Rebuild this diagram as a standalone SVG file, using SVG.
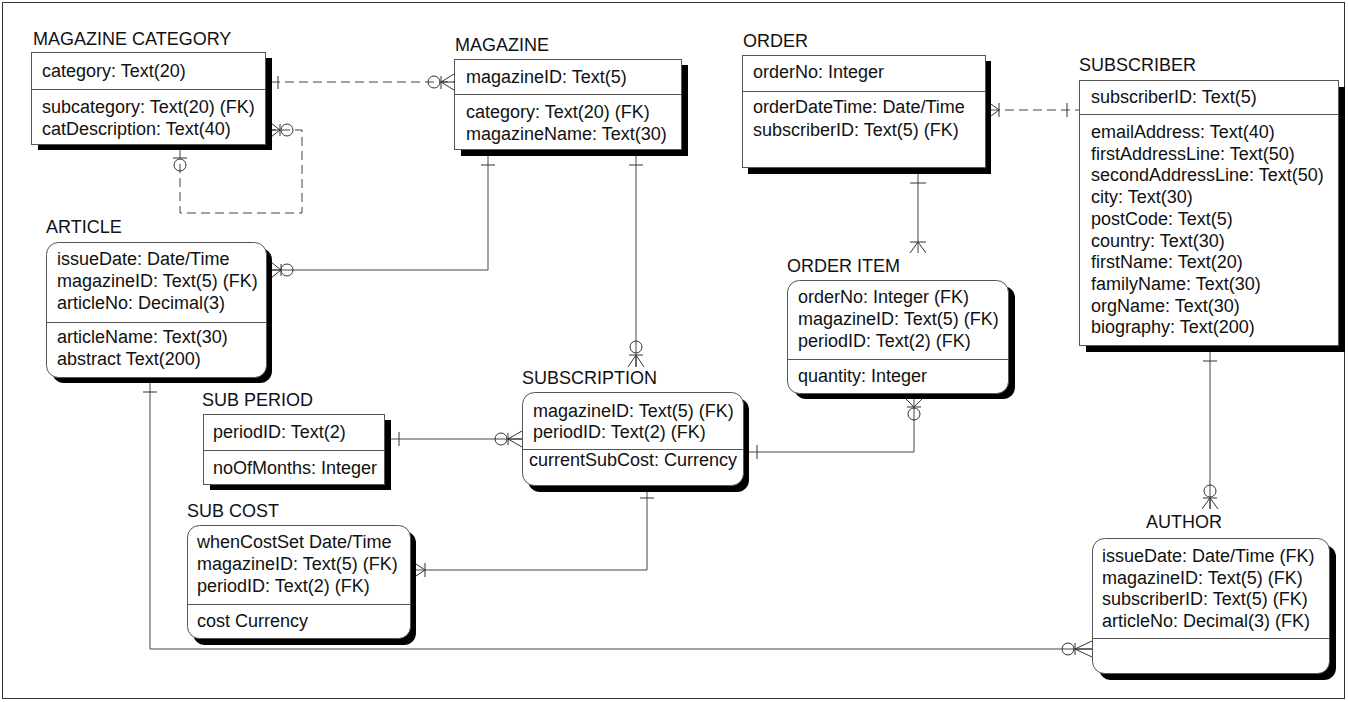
<svg xmlns="http://www.w3.org/2000/svg" width="1348" height="702" viewBox="0 0 1348 702">
<style>
text{font-family:"Liberation Sans",Arial,sans-serif;font-size:18px;fill:#111}
.box{fill:#fff;stroke:#555;stroke-width:1}
.sh{fill:#000}
.div{stroke:#555;stroke-width:1}
.c{fill:none;stroke:#444;stroke-width:1}
.d{fill:none;stroke:#444;stroke-width:1;stroke-dasharray:9,5}
.m{fill:none;stroke:#333;stroke-width:1}
</style>
<rect x="2.5" y="2.5" width="1342" height="696" fill="#fff" stroke="#333" stroke-width="1"/>

<g id="connectors">
  <!-- MAGAZINE CATEGORY to MAGAZINE -->
  <path class="d" d="M271,82 H454"/>
  <path class="m" d="M278,76 V89 M441,76 V89 M441,82 L454,74 M441,82 H454 M441,82 L454,90"/>
  <circle class="m" cx="434" cy="82" r="6" fill="#fff"/>
  <!-- MAGAZINE CATEGORY self loop -->
  <path class="d" d="M180,150 V213 H302 V130 H271"/>
  <path class="m" d="M173,158 H187 M280,124 V136 M280,130 L271,123 M280,130 H271 M280,130 L271,137"/>
  <circle class="m" cx="180" cy="165" r="6" fill="#fff"/>
  <circle class="m" cx="287" cy="130" r="6" fill="#fff"/>
  <!-- MAGAZINE to ARTICLE -->
  <path class="c" d="M488,156 V270 H271"/>
  <path class="m" d="M481,165 H495 M281,264 V276 M281,270 L271,262 M281,270 H271 M281,270 L271,278"/>
  <circle class="m" cx="287" cy="270" r="6" fill="#fff"/>
  <!-- MAGAZINE to SUBSCRIPTION -->
  <path class="c" d="M636,156 V367"/>
  <path class="m" d="M629,165 H643 M629,355 H643 M636,355 L628,367 M636,355 V367 M636,355 L644,367"/>
  <circle class="m" cx="636" cy="347" r="6" fill="#fff"/>
  <!-- ORDER to SUBSCRIBER -->
  <path class="d" d="M991,110 H1079"/>
  <path class="m" d="M999,103 V117 M999,110 L991,104 M999,110 L991,116 M1067,103 V117"/>
  <!-- ORDER to ORDER ITEM -->
  <path class="c" d="M918,174 V253"/>
  <path class="m" d="M910,183 H926 M910,242 H926 M918,242 L910,253 M918,242 L926,253"/>
  <!-- ORDER ITEM to SUBSCRIPTION -->
  <path class="c" d="M914,399 V452 H749"/>
  <path class="m" d="M907,407 H921 M914,407 L906,399 M914,407 L922,399 M757,445 V459"/>
  <circle class="m" cx="914" cy="414" r="6" fill="#fff"/>
  <!-- SUB PERIOD to SUBSCRIPTION -->
  <path class="c" d="M390,439 H522"/>
  <path class="m" d="M399,432 V446 M508,433 V445 M508,439 L522,431 M508,439 H522 M508,439 L522,447"/>
  <circle class="m" cx="501" cy="439" r="6" fill="#fff"/>
  <!-- SUBSCRIPTION to SUB COST -->
  <path class="c" d="M647,491 V570 H416"/>
  <path class="m" d="M640,498 H654 M425,563 V577 M425,570 L416,564 M425,570 L416,576"/>
  <!-- ARTICLE to AUTHOR -->
  <path class="c" d="M150,383 V649 H1092"/>
  <path class="m" d="M143,392 H157 M1075,643 V655 M1075,649 L1092,641 M1075,649 H1092 M1075,649 L1092,657"/>
  <circle class="m" cx="1068" cy="649" r="6" fill="#fff"/>
  <!-- SUBSCRIBER to AUTHOR -->
  <path class="c" d="M1210,351 V509"/>
  <path class="m" d="M1203,361 H1217 M1203,498 H1217 M1210,498 L1202,509 M1210,498 V509 M1210,498 L1218,509"/>
  <circle class="m" cx="1210" cy="491" r="6" fill="#fff"/>
</g>

<g id="magazine-category">
  <text x="33" y="45">MAGAZINE CATEGORY</text>
  <rect class="sh" x="38" y="58" width="234" height="92"/>
  <rect class="box" x="31.5" y="52.5" width="234" height="92"/>
  <line class="div" x1="31.5" y1="89.5" x2="265.5" y2="89.5"/>
  <text x="42" y="77">category: Text(20)</text>
  <text x="42" y="113">subcategory: Text(20) (FK)</text>
  <text x="42" y="134.5">catDescription: Text(40)</text>
</g>

<g id="magazine">
  <text x="455" y="51">MAGAZINE</text>
  <rect class="sh" x="461" y="65" width="227" height="91"/>
  <rect class="box" x="454.5" y="59.5" width="227" height="90"/>
  <line class="div" x1="454.5" y1="94.5" x2="681.5" y2="94.5"/>
  <text x="466" y="83">magazineID: Text(5)</text>
  <text x="466" y="118">category: Text(20) (FK)</text>
  <text x="466" y="140">magazineName: Text(30)</text>
</g>

<g id="order">
  <text x="743" y="47">ORDER</text>
  <rect class="sh" x="748" y="61" width="243" height="113"/>
  <rect class="box" x="742.5" y="55.5" width="243" height="112"/>
  <line class="div" x1="742.5" y1="91.5" x2="985.5" y2="91.5"/>
  <text x="753" y="78">orderNo: Integer</text>
  <text x="753" y="113">orderDateTime: Date/Time</text>
  <text x="753" y="136">subscriberID: Text(5) (FK)</text>
</g>

<g id="subscriber">
  <text x="1079" y="71">SUBSCRIBER</text>
  <rect class="sh" x="1086" y="87" width="259" height="265"/>
  <rect class="box" x="1079.5" y="80.5" width="259" height="265"/>
  <line class="div" x1="1079.5" y1="114.5" x2="1338.5" y2="114.5"/>
  <text x="1091" y="103">subscriberID: Text(5)</text>
  <text x="1091" y="138">emailAddress: Text(40)</text>
  <text x="1091" y="159.7">firstAddressLine: Text(50)</text>
  <text x="1091" y="181.4">secondAddressLine: Text(50)</text>
  <text x="1091" y="203.1">city: Text(30)</text>
  <text x="1091" y="224.8">postCode: Text(5)</text>
  <text x="1091" y="246.5">country: Text(30)</text>
  <text x="1091" y="268.2">firstName: Text(20)</text>
  <text x="1091" y="289.9">familyName: Text(30)</text>
  <text x="1091" y="311.6">orgName: Text(30)</text>
  <text x="1091" y="333.3">biography: Text(200)</text>
</g>

<g id="article">
  <text x="46" y="233">ARTICLE</text>
  <rect class="sh" x="52" y="248" width="220" height="135" rx="12"/>
  <rect class="box" x="46.5" y="242.5" width="220" height="135" rx="12"/>
  <line class="div" x1="46.5" y1="322.5" x2="266.5" y2="322.5"/>
  <text x="57" y="265">issueDate: Date/Time</text>
  <text x="57" y="287">magazineID: Text(5) (FK)</text>
  <text x="57" y="308.5">articleNo: Decimal(3)</text>
  <text x="57" y="343">articleName: Text(30)</text>
  <text x="57" y="365">abstract Text(200)</text>
</g>

<g id="subscription">
  <text x="522" y="384">SUBSCRIPTION</text>
  <rect class="sh" x="528" y="398" width="221" height="94" rx="12"/>
  <rect class="box" x="522.5" y="392.5" width="221" height="93" rx="12"/>
  <line class="div" x1="522.5" y1="449.5" x2="743.5" y2="449.5"/>
  <text x="533" y="417">magazineID: Text(5) (FK)</text>
  <text x="533" y="438">periodID: Text(2) (FK)</text>
  <text x="529" y="466">currentSubCost: Currency</text>
</g>

<g id="order-item">
  <text x="787" y="272">ORDER ITEM</text>
  <rect class="sh" x="794" y="286" width="221" height="113" rx="12"/>
  <rect class="box" x="787.5" y="280.5" width="221" height="113" rx="12"/>
  <line class="div" x1="787.5" y1="359.5" x2="1008.5" y2="359.5"/>
  <text x="798" y="303">orderNo: Integer (FK)</text>
  <text x="798" y="325">magazineID: Text(5) (FK)</text>
  <text x="798" y="347">periodID: Text(2) (FK)</text>
  <text x="798" y="382">quantity: Integer</text>
</g>

<g id="sub-period">
  <text x="202" y="406">SUB PERIOD</text>
  <rect class="sh" x="210" y="420" width="181" height="70"/>
  <rect class="box" x="203.5" y="414.5" width="181" height="70"/>
  <line class="div" x1="203.5" y1="450.5" x2="384.5" y2="450.5"/>
  <text x="213" y="438">periodID: Text(2)</text>
  <text x="213" y="474">noOfMonths: Integer</text>
</g>

<g id="sub-cost">
  <text x="187" y="517">SUB COST</text>
  <rect class="sh" x="193" y="531" width="223" height="114" rx="12"/>
  <rect class="box" x="187.5" y="525.5" width="223" height="113" rx="12"/>
  <line class="div" x1="187.5" y1="604.5" x2="410.5" y2="604.5"/>
  <text x="197" y="548">whenCostSet Date/Time</text>
  <text x="197" y="570">magazineID: Text(5) (FK)</text>
  <text x="197" y="592">periodID: Text(2) (FK)</text>
  <text x="197" y="627">cost Currency</text>
</g>

<g id="author">
  <text x="1146" y="528">AUTHOR</text>
  <rect class="sh" x="1099" y="545" width="237" height="135" rx="12"/>
  <rect class="box" x="1092.5" y="538.5" width="237" height="135" rx="12"/>
  <line class="div" x1="1092.5" y1="638.5" x2="1329.5" y2="638.5"/>
  <text x="1102" y="562">issueDate: Date/Time (FK)</text>
  <text x="1102" y="583.7">magazineID: Text(5) (FK)</text>
  <text x="1102" y="605.4">subscriberID: Text(5) (FK)</text>
  <text x="1102" y="627">articleNo: Decimal(3) (FK)</text>
</g>
</svg>
